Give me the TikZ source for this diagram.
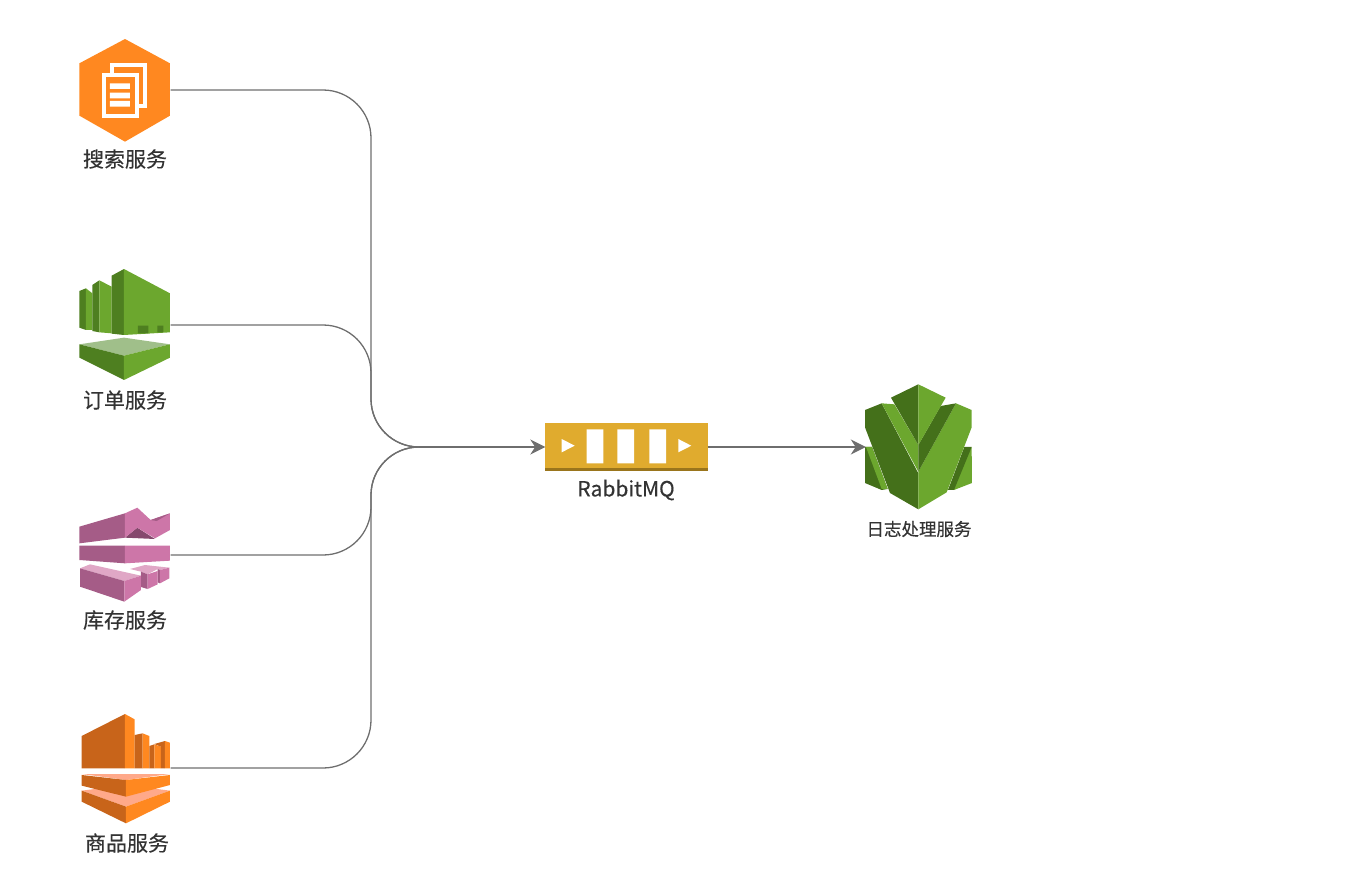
\documentclass[tikz,border=0pt]{standalone}
\usepackage{fontspec}
\setmainfont[RawFeature={embolden=0.35}]{Noto Sans CJK SC}
\usetikzlibrary{arrows.meta}
\definecolor{linegray}{HTML}{6E6E6E}
\definecolor{textgray}{HTML}{333333}
\definecolor{orangeA}{HTML}{FF8820}
\definecolor{orangeB}{HTML}{C8641A}
\definecolor{orangeC}{HTML}{FFA98A}
\definecolor{greenA}{HTML}{6CA72E}
\definecolor{greenB}{HTML}{4E7F20}
\definecolor{greenC}{HTML}{A0BF8A}
\definecolor{greenD}{HTML}{44701A}
\definecolor{pinkA}{HTML}{CD76A8}
\definecolor{pinkB}{HTML}{A55C87}
\definecolor{pinkC}{HTML}{E0A7C6}
\definecolor{pinkD}{HTML}{85496D}
\definecolor{goldA}{HTML}{E0AB2E}
\definecolor{goldB}{HTML}{9A751C}
\tikzset{
  every picture/.style={line join=round, >=Stealth},
  conn/.style={draw=linegray, line width=1.3pt, rounded corners=48pt},
  tipconn/.style={draw=linegray, line width=1.3pt, -{Stealth[length=15pt,width=15pt]}},
  iconbox/.style={inner sep=0pt, minimum height=100pt},
  lbl/.style={text=textgray, font=\fontsize{21}{25}\selectfont, inner sep=0pt},
  smalllbl/.style={text=textgray, font=\fontsize{17.5}{21}\selectfont, inner sep=0pt},
}
\begin{document}
\begin{tikzpicture}[x=1pt,y=-1pt]
\useasboundingbox (0,0) rectangle (1358,894);
% search icon
\begin{scope}[shift={(60,20)},x=0.3333pt,y=-0.3333pt]
\fill[orangeA](195,57)--(330,130)--(330,287)--(195,365)--(58,287)--(58,130)--cycle;
\fill[white](150,128)rectangle(262,265);
\fill[orangeA](163,141)rectangle(250,253);
\fill[white](126,160)rectangle(238,293);
\fill[orangeA](138,172)rectangle(226,281);
\fill[white](150,190)rectangle(210,207)
(150,218)rectangle(210,235)
(150,243)rectangle(210,260);
\end{scope}
% order icon
\begin{scope}[shift={(60,255)},x=0.3333pt,y=-0.3333pt]
\fill[greenB](58,108)--(78,100)--(78,225)--(58,218)--cycle;
\fill[greenA](78,100)--(97,115)--(97,225)--(78,225)--cycle;
\fill[greenB](97,90)--(118,76)--(118,232)--(97,228)--cycle;
\fill[greenA](118,76)--(155,95)--(155,235)--(118,232)--cycle;
\fill[greenB](155,62)--(192,42)--(192,240)--(155,236)--cycle;
\fill[greenA](192,42)--(330,115)--(330,232)--(192,240)--cycle;
\fill[greenB](234,212)rectangle(265,235)
(292,212)rectangle(310,232);
\fill[greenC](58,268)--(192,248)--(330,268)--(192,302)--cycle;
\fill[greenB](58,268)--(192,302)--(192,375)--(58,308)--cycle;
\fill[greenA](330,268)--(192,302)--(192,375)--(330,308)--cycle;
\end{scope}
% stock icon
\begin{scope}[shift={(60,495)},x=0.3333pt,y=-0.3333pt]
\fill[pinkD](195,128)--(232,98)--(285,132)--cycle;
\fill[pinkB](58,95)--(195,55)--(195,128)--(58,145)--cycle;
\fill[pinkA](195,55)--(232,38)--(272,75)--(330,55)--(330,105)--(285,130)--(232,98)--(195,128)--cycle;
\fill[pinkB](272,75)--(330,55)--(290,78)--cycle;
\fill[pinkB](58,152)--(195,152)--(195,205)--(58,195)--cycle;
\fill[pinkA](195,152)--(330,152)--(330,197)--(195,205)--cycle;
\end{scope}
\begin{scope}[shift={(75,555)},x=0.3333pt,y=-0.3333pt]
\fill[pinkC](165,42)--(210,30)--(283,38)--(255,45)--(248,42)--(218,58)--(198,50)--cycle;
\fill[pinkB](248,42)--(255,45)--(255,85)--(248,82)--cycle;
\fill[pinkA](255,45)--(283,38)--(283,70)--(255,85)--cycle;
\fill[pinkB](198,50)--(218,58)--(218,102)--(198,96)--cycle;
\fill[pinkA](218,58)--(248,48)--(248,88)--(218,102)--cycle;
\fill[pinkC](15,40)--(45,28)--(198,62)--(148,78)--cycle;
\fill[pinkB](15,40)--(148,78)--(148,140)--(15,95)--cycle;
\fill[pinkA](148,78)--(198,62)--(198,105)--(148,140)--cycle;
\end{scope}
% goods icon
\begin{scope}[shift={(60,700)},x=0.3333pt,y=-0.3333pt]
\fill[orangeB](65,108)--(195,42)--(195,205)--(65,205)--cycle;
\fill[orangeA](195,42)--(224,58)--(224,205)--(195,205)--cycle;
\fill[orangeB](224,105)--(248,100)--(248,205)--(224,205)--cycle;
\fill[orangeA](248,100)--(268,108)--(268,205)--(248,205)--cycle;
\fill[orangeB](268,138)--(283,133)--(283,205)--(268,205)--cycle;
\fill[orangeA](283,133)--(303,140)--(303,205)--(283,205)--cycle;
\fill[orangeB](283,132)--(315,123)--(315,205)--(303,205)--(303,140)--cycle;
\fill[orangeA](315,123)--(330,128)--(330,205)--(315,205)--cycle;
\fill[orangeC](65,272)--(198,255)--(330,272)--(198,320)--cycle;
\fill[orangeB](65,272)--(198,320)--(198,370)--(65,305)--cycle;
\fill[orangeA](330,272)--(198,320)--(198,370)--(330,305)--cycle;
\fill[orangeC](65,222)--(330,222)--(198,240)--cycle;
\fill[orangeB](65,225)--(198,240)--(198,290)--(65,257)--cycle;
\fill[orangeA](330,225)--(198,240)--(198,290)--(330,255)--cycle;
\end{scope}
% rabbit icon
\fill[goldA](545,422.7)rectangle(707.5,468);
\fill[goldB](545,468)rectangle(707.5,471.3);
\fill[white](561.7,439)--(574.7,445.7)--(561.7,452.3)--cycle
(678.3,439)--(691.3,445.7)--(678.3,452.3)--cycle;
\fill[white](586.7,429.3)rectangle(603.3,463.3)
(617.3,429.3)rectangle(634,463.3)
(649.3,429.3)rectangle(666,463.3);
% log icon
\begin{scope}[shift={(850,375)},x=0.3333pt,y=-0.3333pt]
\fill[greenD](45,216)--(66,216)--(113,342)--(95,345)--(45,324)--cycle;
\fill[greenA](48,216)--(66,216)--(113,342)--(95,342)--cycle;
\fill[greenA](365,216)--(366,324)--(312,345)--(294,345)--cycle;
\fill[greenD](343,216)--(365,216)--(312,345)--(294,345)--cycle;
\fill[greenD](45,105)--(95,85)--(205,295)--(205,403)--(120,354)--(45,157)--cycle;
\fill[greenA](365,105)--(318,85)--(205,290)--(205,403)--(290,352)--(365,157)--cycle;
\fill[greenA](95,85)--(133,88)--(205,210)--(205,290)--cycle;
\fill[greenD](205,210)--(272,93)--(318,85)--(205,290)--cycle;
\fill[greenD](123,68)--(205,28)--(205,210)--cycle;
\fill[greenA](205,28)--(287,68)--(205,210)--cycle;
\end{scope}
% anchors of the icons
\node[iconbox,minimum width=91pt](search)at(125,90){};
\node[iconbox,minimum width=91pt](order)at(125,325){};
\node[iconbox,minimum width=91pt](stock)at(125,555){};
\node[iconbox,minimum width=91pt](goods)at(125,768){};
\node[iconbox,minimum width=162pt](rabbit)at(626.5,447){};
\node[iconbox,minimum width=107pt](logsrv)at(919.5,447){};
\coordinate(bus)at(371,447);
\coordinate(merge)at(419,447);
% connectors
\draw[conn](search.east)-|(bus)--(merge);
\draw[conn](order.east)-|(bus)--(merge);
\draw[conn](stock.east)-|(bus)--(merge);
\draw[conn](goods.east)-|(bus)--(merge);
\draw[tipconn](merge)--(rabbit.west);
\draw[tipconn](rabbit.east)--(logsrv.west);
% labels
\node[lbl](searchlbl)at(125,159){搜索服务};
\node[lbl](orderlbl)at(125,400){订单服务};
\node[lbl](stocklbl)at(125,620){库存服务};
\node[lbl](goodslbl)at(127,843){商品服务};
\node[lbl](rabbitlbl)at(626,490){RabbitMQ};
\node[smalllbl](logsrvlbl)at(919,529){日志处理服务};
\end{tikzpicture}
\end{document}
